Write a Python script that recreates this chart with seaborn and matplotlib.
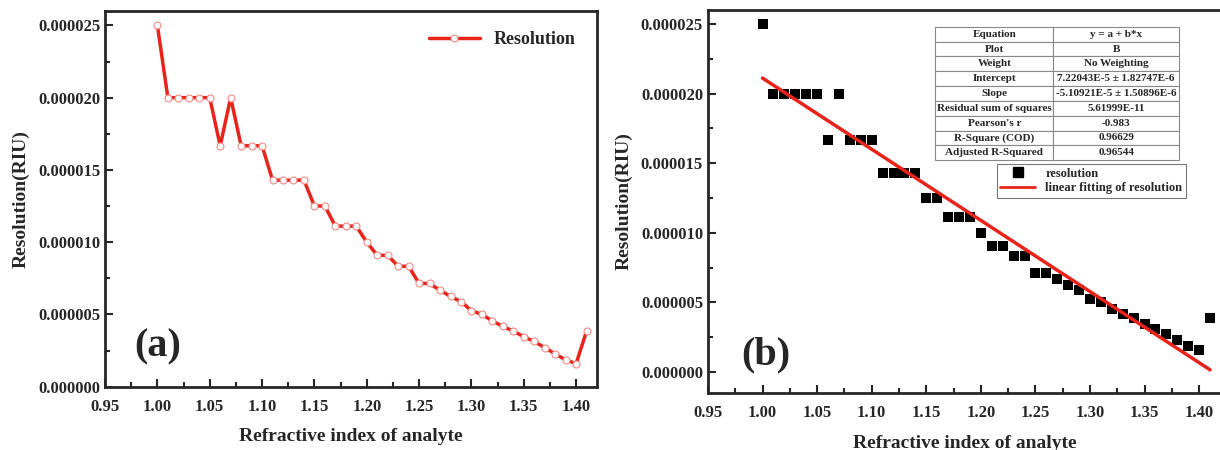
import numpy as np
import pandas as pd
import matplotlib
matplotlib.use("Agg")
import matplotlib.pyplot as plt
from matplotlib.ticker import MultipleLocator, FormatStrFormatter
from matplotlib.lines import Line2D
import seaborn as sns

# ---------------------------------------------------------------
# Data
# ---------------------------------------------------------------
refractive_index = [1.00, 1.01, 1.02, 1.03, 1.04, 1.05, 1.06, 1.07, 1.08, 1.09,
                    1.10, 1.11, 1.12, 1.13, 1.14, 1.15, 1.16, 1.17, 1.18, 1.19,
                    1.20, 1.21, 1.22, 1.23, 1.24, 1.25, 1.26, 1.27, 1.28, 1.29,
                    1.30, 1.31, 1.32, 1.33, 1.34, 1.35, 1.36, 1.37, 1.38, 1.39,
                    1.40, 1.41]
resolution = [2.5e-5, 2.0e-5, 2.0e-5, 2.0e-5, 2.0e-5, 2.0e-5, 1.667e-5, 2.0e-5,
              1.667e-5, 1.667e-5, 1.667e-5, 1.429e-5, 1.429e-5, 1.429e-5, 1.429e-5,
              1.25e-5, 1.25e-5, 1.111e-5, 1.111e-5, 1.111e-5, 1.0e-5, 0.909e-5,
              0.909e-5, 0.833e-5, 0.833e-5, 0.714e-5, 0.714e-5, 0.667e-5, 0.625e-5,
              0.588e-5, 0.526e-5, 0.5e-5, 0.455e-5, 0.417e-5, 0.385e-5, 0.345e-5,
              0.313e-5, 0.270e-5, 0.227e-5, 0.185e-5, 0.16e-5, 0.385e-5]

# linear fit parameters shown in the table
intercept = 7.22043e-5
slope = -5.10921e-5

table_labels = ["Equation", "Plot", "Weight", "Intercept", "Slope",
                "Residual sum of squares", "Pearson's r", "R-Square (COD)",
                "Adjusted R-Squared"]
table_values = ["y = a + b*x", "B", "No Weighting",
                "7.22043E-5 \u00b1 1.82747E-6", "-5.10921E-5 \u00b1 1.50896E-6",
                "5.61999E-11", "-0.983", "0.96629", "0.96544"]

df = pd.DataFrame({"n": refractive_index, "res": resolution})
fit_x = [refractive_index[0], refractive_index[-1]]
fit_df = pd.DataFrame({"n": fit_x, "res": [intercept + slope * v for v in fit_x]})

# ---------------------------------------------------------------
# Style
# ---------------------------------------------------------------
sns.set_style("ticks")
plt.rcParams["font.family"] = ["Liberation Serif", "DejaVu Serif"]
plt.rcParams["font.weight"] = "bold"
plt.rcParams["axes.labelweight"] = "bold"
plt.rcParams["axes.linewidth"] = 2
plt.rcParams["xtick.direction"] = "in"
plt.rcParams["ytick.direction"] = "in"

red = "#e8231a"

fig = plt.figure(figsize=(12.2, 4.5), dpi=100)
ax1 = fig.add_axes([0.0861, 0.1407, 0.4033, 0.835])
ax2 = fig.add_axes([0.5803, 0.1267, 0.4205, 0.851])

# ---------------------------------------------------------------
# (a) line plot
# ---------------------------------------------------------------
sns.lineplot(data=df, x="n", y="res", ax=ax1, color=red, linewidth=2.5,
             marker="o", markersize=5, markerfacecolor="white",
             markeredgecolor="#f08a84", markeredgewidth=0.8,
             label="Resolution")
ax1.legend(loc="upper right", bbox_to_anchor=(0.99, 0.99), frameon=False,
           prop={"weight": "bold", "size": 13}, handlelength=2.8)
ax1.text(0.06, 0.08, "(a)", transform=ax1.transAxes, fontsize=29,
         fontweight="bold")

# ---------------------------------------------------------------
# (b) scatter + linear fit
# ---------------------------------------------------------------
sns.scatterplot(data=df, x="n", y="res", ax=ax2, marker="s", s=55,
                color="black", edgecolor="black", linewidth=0)
sns.lineplot(data=fit_df, x="n", y="res", ax=ax2, color=red, linewidth=2.5)
ax2.text(0.065, 0.075, "(b)", transform=ax2.transAxes, fontsize=29,
         fontweight="bold")

handles = [Line2D([], [], marker="s", color="black", linestyle="none",
                  markersize=7),
           Line2D([], [], color=red, linewidth=2)]
leg = ax2.legend(handles, ["resolution", "linear fitting of resolution"],
                 loc="upper right", bbox_to_anchor=(0.932, 0.598),
                 frameon=True, fancybox=False, edgecolor="#555555",
                 prop={"weight": "bold", "size": 9}, borderpad=0.3,
                 labelspacing=0.2, handlelength=2.8, borderaxespad=0)
leg.get_frame().set_linewidth(0.8)

tbl = ax2.table(cellText=[[a, b] for a, b in zip(table_labels, table_values)],
                bbox=[0.443, 0.608, 0.475, 0.348], cellLoc="center",
                colWidths=[0.485, 0.515])
tbl.auto_set_font_size(False)
tbl.set_fontsize(8)
for cell in tbl.get_celld().values():
    cell.set_edgecolor("#888888")
    cell.set_linewidth(0.8)
    cell.get_text().set_fontweight("bold")

# ---------------------------------------------------------------
# Axes formatting
# ---------------------------------------------------------------
for ax, ylim in ((ax1, (0, 2.6e-5)), (ax2, (-1.5e-6, 2.6e-5))):
    ax.set_xlim(0.95, 1.42)
    ax.set_ylim(*ylim)
    ax.xaxis.set_major_locator(MultipleLocator(0.05))
    ax.xaxis.set_minor_locator(MultipleLocator(0.025))
    ax.yaxis.set_major_locator(MultipleLocator(5e-6))
    ax.yaxis.set_minor_locator(MultipleLocator(2.5e-6))
    ax.xaxis.set_major_formatter(FormatStrFormatter("%.2f"))
    ax.yaxis.set_major_formatter(FormatStrFormatter("%.6f"))
    ax.tick_params(which="major", length=6, width=1.5, labelsize=12)
    ax.tick_params(axis="x", which="major", pad=9)
    ax.tick_params(which="minor", length=3.5, width=1.5)
    for lab in ax.get_xticklabels() + ax.get_yticklabels():
        lab.set_fontweight("bold")
    ax.set_ylabel("Resolution(RIU)", fontsize=14, fontweight="bold",
                  labelpad=6)
    for s in ax.spines.values():
        s.set_visible(True)
        s.set_linewidth(2)

ax1.set_xlabel("Refractive index of analyte", fontsize=14, fontweight="bold",
               labelpad=9)
ax2.set_xlabel("Refractive index of analyte", fontsize=14, fontweight="bold",
               labelpad=10)

fig.savefig("out.png", dpi=100)
